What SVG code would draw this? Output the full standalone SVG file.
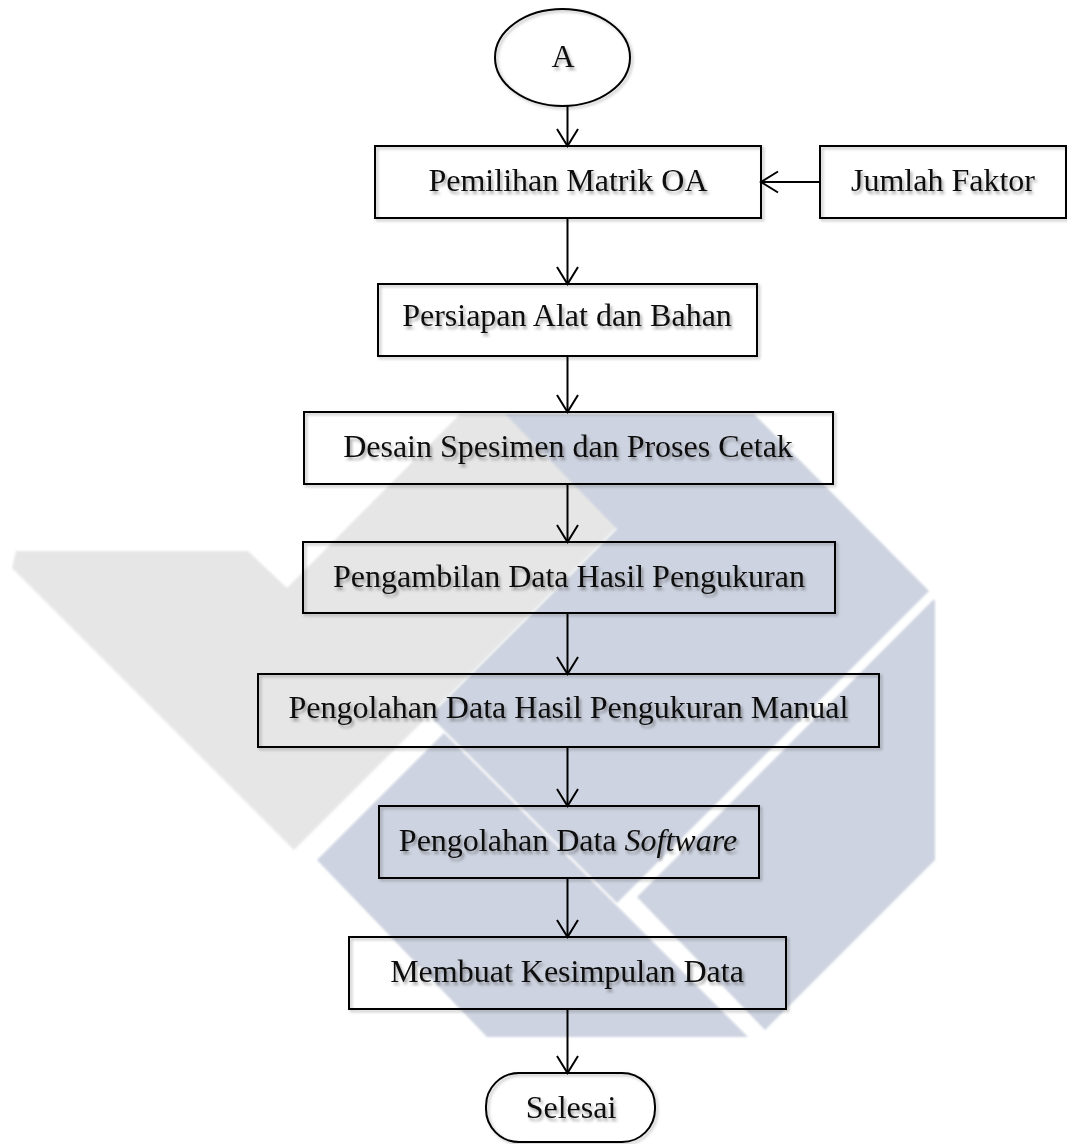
<svg xmlns="http://www.w3.org/2000/svg" width="1067" height="1144" viewBox="0 0 1067 1144">
  <style>
    .box { fill: none; stroke: #000; stroke-width: 2; filter: url(#bs); }
    .lbl { font-family: "Liberation Serif", "Times New Roman", serif; font-size: 32px; fill: #111; text-anchor: middle; filter: url(#ts); }
    .conn { fill: none; stroke: #000; stroke-width: 2; marker-end: url(#ah); }
    .wm-gray { fill: #e6e6e6; }
    .wm-blue { fill: #cdd3e0; }
  </style>
  <defs>
    <filter id="ts" x="-10%" y="-30%" width="120%" height="170%">
      <feDropShadow dx="2" dy="3" stdDeviation="1.8" flood-color="#000" flood-opacity="0.35"/>
    </filter>
    <filter id="bs" x="-5%" y="-10%" width="110%" height="130%">
      <feDropShadow dx="2" dy="2" stdDeviation="1.5" flood-color="#000" flood-opacity="0.25"/>
    </filter>
    <filter id="wmblur">
      <feGaussianBlur stdDeviation="1.2"/>
    </filter>
    <marker id="ah" markerUnits="userSpaceOnUse" markerWidth="30" markerHeight="30" viewBox="0 0 30 30" refX="20" refY="15" orient="auto">
      <path d="M3,4.5 L20,15 L3,25.5" fill="none" stroke="#000" stroke-width="2"/>
    </marker>
  </defs>

  <rect x="0" y="0" width="1067" height="1144" fill="#fff"/>

  <g id="watermark" filter="url(#wmblur)">
    <polygon class="wm-gray" points="16,551 248,551 287,588 460,414 730,414 294,850 12,568"/>
    <polygon class="wm-blue" points="505,414 754,414 929,591 617,903 430,716 617,529"/>
    <polygon class="wm-blue" points="444,733 317,860 487,1037 748,1037"/>
    <polygon class="wm-blue" points="933,600 935,600 935,860 765,1030 637,897"/>
  </g>

  <g id="connectors">
    <path class="conn" d="M567.5,106 V146"/>
    <path class="conn" d="M567.5,218 V284"/>
    <path class="conn" d="M567.5,356 V412"/>
    <path class="conn" d="M567.5,484 V542"/>
    <path class="conn" d="M567.5,613 V674"/>
    <path class="conn" d="M567.5,747 V806"/>
    <path class="conn" d="M567.5,878 V937"/>
    <path class="conn" d="M567.5,1009 V1073"/>
    <path class="conn" d="M820,182 H761"/>
  </g>

  <g id="node-A">
    <ellipse class="box" cx="562.5" cy="57.5" rx="67.5" ry="48.5"/>
    <text class="lbl" x="563" y="67">A</text>
  </g>
  <g id="node-pemilihan">
    <rect class="box" x="375" y="146" width="386" height="72"/>
    <text class="lbl" x="568" y="191">Pemilihan Matrik OA</text>
  </g>
  <g id="node-jumlah">
    <rect class="box" x="820" y="146" width="246" height="72"/>
    <text class="lbl" x="943" y="191">Jumlah Faktor</text>
  </g>
  <g id="node-persiapan">
    <rect class="box" x="378" y="284" width="379" height="72"/>
    <text class="lbl" x="567" y="326">Persiapan Alat dan Bahan</text>
  </g>
  <g id="node-desain">
    <rect class="box" x="304" y="412" width="529" height="72"/>
    <text class="lbl" x="568" y="457">Desain Spesimen dan Proses Cetak</text>
  </g>
  <g id="node-pengambilan">
    <rect class="box" x="303" y="542" width="532" height="71"/>
    <text class="lbl" x="569" y="587">Pengambilan Data Hasil Pengukuran</text>
  </g>
  <g id="node-manual">
    <rect class="box" x="258" y="674" width="621" height="73"/>
    <text class="lbl" x="568.5" y="718">Pengolahan Data Hasil Pengukuran Manual</text>
  </g>
  <g id="node-software">
    <rect class="box" x="379" y="806" width="380" height="72"/>
    <text class="lbl" x="568" y="851">Pengolahan Data <tspan font-style="italic">Software</tspan></text>
  </g>
  <g id="node-kesimpulan">
    <rect class="box" x="349" y="937" width="437" height="72"/>
    <text class="lbl" x="567" y="982">Membuat Kesimpulan Data</text>
  </g>
  <g id="node-selesai">
    <rect class="box" x="486" y="1073" width="169" height="69" rx="33" ry="33"/>
    <text class="lbl" x="571" y="1118">Selesai</text>
  </g>
</svg>
